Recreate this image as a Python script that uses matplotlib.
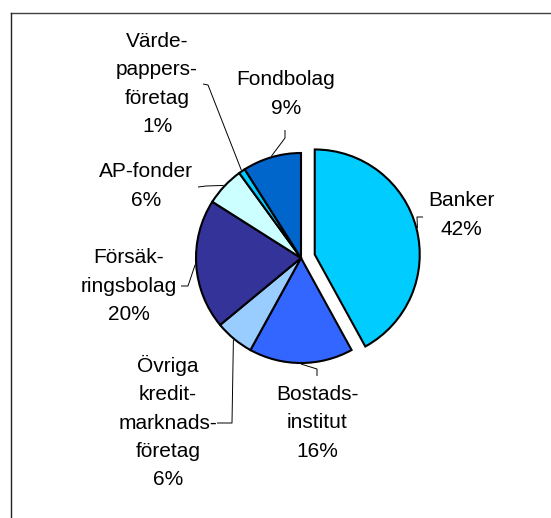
import numpy as np
import matplotlib.pyplot as plt
from matplotlib.lines import Line2D

# data
namn = ["Banker", "Bostads-\ninstitut", "Övriga\nkredit-\nmarknads-\nföretag",
        "Försäk-\nringsbolag", "AP-fonder", "Värde-\npappers-\nföretag", "Fondbolag"]
andel = [42, 16, 6, 20, 6, 1, 9]
farger = ["#00CCFF", "#3366FF", "#99CCFF", "#333399", "#CCFFFF", "#00CCFF", "#0066CC"]
utbruten = [0.135, 0, 0, 0, 0, 0, 0]

# layout i pixlar (bredd 551, hojd 518)
W, H = 551, 518
cx, cy, R = 301, 258, 105
etikett_pos = [(461, 215), (317, 423), (168, 422), (129, 286), (146, 186), (157, 84), (286, 94)]
# knack och slutpunkt for hanvisningslinjer
knack = [(417, 217), (317, 369), (232, 423), (188, 286), (206, 186), (208, 85), (285, 138)]
slut = [(423, 217), (317, 376), (217, 423), (181, 286), (198, 187), (203, 84), (285, 130)]


def px(x, y):
    # pixel -> datakoordinater (pajens radie = 1)
    return (x - cx) / R, (cy - y) / R


plt.rcParams['font.family'] = ['Liberation Sans', 'DejaVu Sans']

fig = plt.figure(figsize=(W / 100, H / 100), dpi=100)
ax = fig.add_axes([0, 0, 1, 1])

ax.pie(andel, colors=farger, explode=utbruten, startangle=90, counterclock=False,
       radius=1, wedgeprops=dict(edgecolor="black", linewidth=1.5))
ax.set_aspect('auto')
ax.set_xlim(-cx / R, (W - cx) / R)
ax.set_ylim(-(H - cy) / R, cy / R)
ax.axis('off')

# etiketter och hanvisningslinjer
tot = sum(andel)
start = 0
for i, (n, v) in enumerate(zip(namn, andel)):
    mitt = (start + v / 2) / tot * 2 * np.pi
    start += v
    ex = utbruten[i]
    r0 = 1.01 + ex
    x0, y0 = r0 * np.sin(mitt), r0 * np.cos(mitt)
    kx, ky = px(*knack[i])
    sx, sy = px(*slut[i])
    ax.plot([x0, kx, sx], [y0, ky, sy], color="black", lw=0.7, solid_capstyle='butt')
    tx, ty = px(*etikett_pos[i])
    ax.text(tx, ty, f"{n}\n{v}%", ha="center", va="center", fontsize=15,
            linespacing=1.62, multialignment="center")

# ram
fig.add_artist(Line2D([11 / W, 1], [1 - 12.5 / H, 1 - 12.5 / H], transform=fig.transFigure,
                      color="#404040", lw=1.0))
fig.add_artist(Line2D([11 / W, 11 / W], [0, 1 - 12.5 / H], transform=fig.transFigure,
                      color="#202020", lw=1.0))

fig.savefig("out.png", dpi=100)
